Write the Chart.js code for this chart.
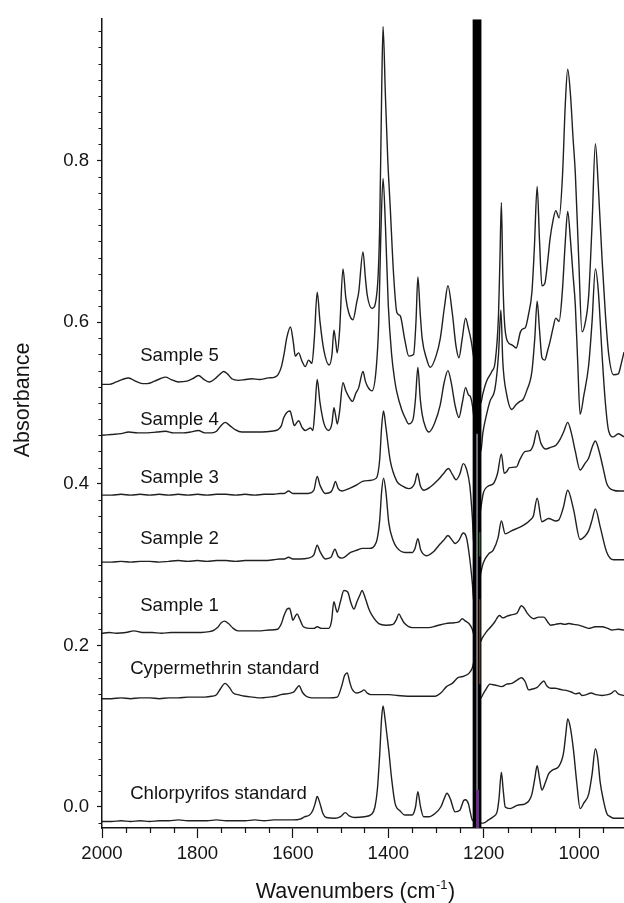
<!DOCTYPE html>
<html>
<head>
<meta charset="utf-8">
<title>FTIR spectra</title>
<script src="https://cdn.jsdelivr.net/npm/chart.js@4.4.1/dist/chart.umd.min.js"></script>
<style>
    html, body { margin: 0; padding: 0; background: #ffffff; }
    #wrap { width: 624px; height: 903px; }
</style>
</head>
<body>
<div id="wrap"><canvas id="spectra" width="624" height="903"></canvas></div>
<script>
// Spectra: [wavenumber (cm-1), absorbance]
const sample5 = [
    [2000, 0.523], [1985, 0.523], [1970, 0.526], [1958, 0.529], [1944, 0.531], [1930, 0.527],
    [1915, 0.524], [1905, 0.524], [1890, 0.527], [1878, 0.530], [1867, 0.532], [1855, 0.529],
    [1840, 0.526], [1822, 0.527], [1810, 0.530], [1798, 0.534], [1786, 0.529], [1775, 0.526],
    [1763, 0.530], [1752, 0.536], [1745, 0.539], [1737, 0.536], [1728, 0.530], [1714, 0.528],
    [1700, 0.529], [1686, 0.530], [1670, 0.529], [1651, 0.531], [1638, 0.532], [1631, 0.535],
    [1624, 0.545], [1618, 0.562], [1613, 0.580], [1605, 0.594], [1599, 0.575], [1595, 0.558],
    [1588, 0.562], [1581, 0.552], [1574, 0.545], [1567, 0.553], [1560, 0.549], [1555, 0.580],
    [1549, 0.637], [1543, 0.600], [1535, 0.565], [1524, 0.547], [1518, 0.560], [1514, 0.590],
    [1510, 0.575], [1507, 0.562], [1502, 0.590], [1495, 0.666], [1489, 0.630], [1483, 0.612],
    [1474, 0.603], [1466, 0.625], [1462, 0.637], [1453, 0.687], [1448, 0.655], [1444, 0.633],
    [1434, 0.617], [1423, 0.642], [1418, 0.720], [1414, 0.880], [1411, 0.966], [1406, 0.880],
    [1401, 0.800], [1396, 0.743], [1389, 0.660], [1382, 0.612], [1375, 0.608], [1366, 0.580],
    [1357, 0.558], [1347, 0.560], [1342, 0.600], [1338, 0.656], [1333, 0.610], [1329, 0.580],
    [1320, 0.555], [1312, 0.544], [1300, 0.558], [1291, 0.580], [1282, 0.620], [1275, 0.645],
    [1266, 0.612], [1258, 0.570], [1252, 0.556], [1245, 0.580], [1238, 0.605], [1232, 0.592],
    [1226, 0.576], [1222, 0.560], [1206, 0.500], [1202, 0.511], [1194, 0.527], [1183, 0.539],
    [1176, 0.551], [1169, 0.609], [1166, 0.678], [1163, 0.748], [1160, 0.658], [1157, 0.605],
    [1150, 0.576], [1141, 0.572], [1132, 0.568], [1123, 0.588], [1117, 0.592], [1113, 0.593],
    [1106, 0.610], [1099, 0.637], [1094, 0.690], [1088, 0.768], [1083, 0.700], [1078, 0.645],
    [1072, 0.648], [1066, 0.675], [1061, 0.703], [1055, 0.725], [1049, 0.738], [1042, 0.729],
    [1035, 0.780], [1029, 0.870], [1024, 0.913], [1018, 0.880], [1013, 0.830], [1008, 0.784],
    [1001, 0.680], [994, 0.588], [987, 0.600], [980, 0.633], [973, 0.720], [966, 0.821],
    [960, 0.770], [952, 0.678], [945, 0.610], [938, 0.560], [928, 0.535], [918, 0.536],
    [912, 0.548], [906, 0.563]
];

const sample4 = [
    [2000, 0.460], [1980, 0.461], [1960, 0.462], [1944, 0.464], [1925, 0.463], [1905, 0.463],
    [1885, 0.464], [1867, 0.465], [1850, 0.463], [1830, 0.463], [1815, 0.464], [1798, 0.466],
    [1785, 0.463], [1770, 0.463], [1760, 0.465], [1752, 0.471], [1742, 0.476], [1732, 0.472],
    [1721, 0.467], [1707, 0.464], [1685, 0.464], [1665, 0.464], [1645, 0.465], [1631, 0.467],
    [1624, 0.472], [1619, 0.482], [1613, 0.488], [1606, 0.490], [1601, 0.480], [1597, 0.472],
    [1588, 0.478], [1580, 0.469], [1574, 0.466], [1563, 0.469], [1558, 0.466], [1554, 0.490],
    [1549, 0.529], [1543, 0.500], [1535, 0.475], [1525, 0.466], [1518, 0.475], [1514, 0.494],
    [1510, 0.483], [1507, 0.474], [1502, 0.490], [1495, 0.525], [1489, 0.515], [1483, 0.508],
    [1475, 0.502], [1468, 0.512], [1462, 0.519], [1453, 0.539], [1448, 0.527], [1443, 0.520],
    [1434, 0.515], [1425, 0.545], [1420, 0.600], [1416, 0.700], [1411, 0.778], [1406, 0.720],
    [1400, 0.621], [1393, 0.560], [1387, 0.530], [1382, 0.513], [1372, 0.492], [1365, 0.482],
    [1357, 0.474], [1348, 0.480], [1343, 0.505], [1338, 0.544], [1333, 0.505], [1329, 0.486],
    [1322, 0.470], [1315, 0.464], [1303, 0.475], [1291, 0.498], [1283, 0.525], [1275, 0.540],
    [1268, 0.525], [1260, 0.497], [1252, 0.482], [1245, 0.500], [1238, 0.519], [1232, 0.510],
    [1228, 0.508], [1224, 0.498], [1220, 0.480], [1206, 0.440], [1202, 0.462], [1194, 0.486],
    [1187, 0.502], [1176, 0.519], [1169, 0.560], [1164, 0.615], [1160, 0.551], [1152, 0.511],
    [1141, 0.492], [1132, 0.498], [1124, 0.502], [1118, 0.504], [1110, 0.515], [1099, 0.539],
    [1093, 0.580], [1088, 0.626], [1083, 0.590], [1078, 0.556], [1072, 0.553], [1066, 0.565],
    [1061, 0.576], [1055, 0.592], [1049, 0.605], [1042, 0.601], [1035, 0.640], [1029, 0.700],
    [1024, 0.737], [1018, 0.700], [1013, 0.660], [1008, 0.621], [1003, 0.550], [998, 0.486],
    [990, 0.510], [980, 0.547], [973, 0.600], [966, 0.666], [960, 0.640], [952, 0.560],
    [945, 0.500], [938, 0.465], [928, 0.458], [918, 0.462], [906, 0.458]
];

const sample3 = [
    [2000, 0.386], [1980, 0.386], [1960, 0.387], [1940, 0.386], [1920, 0.387], [1900, 0.386],
    [1880, 0.387], [1860, 0.386], [1840, 0.387], [1820, 0.386], [1800, 0.387], [1780, 0.386],
    [1760, 0.387], [1740, 0.387], [1720, 0.386], [1700, 0.387], [1680, 0.386], [1660, 0.387],
    [1640, 0.387], [1627, 0.388], [1618, 0.388], [1609, 0.391], [1600, 0.388], [1585, 0.388],
    [1568, 0.388], [1556, 0.392], [1549, 0.409], [1543, 0.398], [1532, 0.388], [1520, 0.390],
    [1515, 0.396], [1511, 0.403], [1505, 0.394], [1497, 0.391], [1479, 0.395], [1465, 0.399],
    [1454, 0.403], [1440, 0.404], [1425, 0.407], [1418, 0.430], [1414, 0.470], [1410, 0.490],
    [1405, 0.470], [1396, 0.429], [1382, 0.403], [1370, 0.397], [1357, 0.394], [1345, 0.400],
    [1339, 0.413], [1333, 0.398], [1325, 0.392], [1312, 0.396], [1297, 0.404], [1285, 0.412],
    [1274, 0.419], [1266, 0.412], [1258, 0.405], [1250, 0.412], [1243, 0.425], [1236, 0.418],
    [1229, 0.397], [1224, 0.360], [1220, 0.320], [1206, 0.370], [1201, 0.388], [1191, 0.397],
    [1180, 0.400], [1171, 0.413], [1163, 0.437], [1157, 0.413], [1152, 0.415], [1146, 0.420],
    [1131, 0.421], [1125, 0.429], [1113, 0.440], [1103, 0.441], [1096, 0.448], [1088, 0.466],
    [1080, 0.450], [1070, 0.443], [1060, 0.445], [1048, 0.448], [1040, 0.455], [1032, 0.465],
    [1024, 0.476], [1016, 0.462], [1008, 0.440], [998, 0.417], [988, 0.425], [980, 0.432],
    [973, 0.445], [966, 0.453], [958, 0.440], [950, 0.420], [942, 0.400], [928, 0.392],
    [915, 0.391], [906, 0.391]
];

const sample2 = [
    [2000, 0.303], [1980, 0.303], [1960, 0.304], [1940, 0.303], [1920, 0.304], [1900, 0.304],
    [1880, 0.303], [1860, 0.304], [1840, 0.305], [1820, 0.304], [1800, 0.305], [1780, 0.304],
    [1760, 0.305], [1740, 0.305], [1720, 0.304], [1700, 0.305], [1680, 0.305], [1660, 0.305],
    [1640, 0.306], [1627, 0.307], [1618, 0.307], [1609, 0.309], [1600, 0.307], [1585, 0.307],
    [1568, 0.308], [1556, 0.312], [1549, 0.324], [1543, 0.316], [1532, 0.307], [1520, 0.309],
    [1512, 0.319], [1505, 0.310], [1497, 0.308], [1479, 0.315], [1465, 0.318], [1454, 0.320],
    [1440, 0.320], [1425, 0.328], [1418, 0.355], [1414, 0.390], [1410, 0.407], [1405, 0.390],
    [1399, 0.352], [1390, 0.330], [1382, 0.321], [1365, 0.315], [1350, 0.315], [1344, 0.320],
    [1338, 0.332], [1332, 0.318], [1319, 0.311], [1305, 0.316], [1295, 0.323], [1284, 0.330],
    [1275, 0.336], [1266, 0.330], [1260, 0.326], [1252, 0.330], [1243, 0.339], [1236, 0.333],
    [1229, 0.306], [1224, 0.278], [1220, 0.250], [1206, 0.290], [1201, 0.302], [1190, 0.313],
    [1180, 0.318], [1170, 0.333], [1163, 0.354], [1155, 0.338], [1141, 0.342], [1125, 0.346],
    [1113, 0.350], [1103, 0.355], [1096, 0.360], [1088, 0.382], [1078, 0.353], [1064, 0.357],
    [1050, 0.354], [1043, 0.355], [1033, 0.371], [1024, 0.392], [1012, 0.369], [998, 0.331],
    [988, 0.335], [980, 0.342], [973, 0.355], [966, 0.369], [956, 0.347], [942, 0.315],
    [928, 0.306], [915, 0.306], [906, 0.306]
];

const sample1 = [
    [2000, 0.215], [1985, 0.216], [1970, 0.215], [1950, 0.216], [1933, 0.218], [1915, 0.216],
    [1895, 0.216], [1875, 0.215], [1855, 0.216], [1835, 0.216], [1812, 0.216], [1792, 0.216],
    [1775, 0.217], [1765, 0.219], [1758, 0.222], [1750, 0.228], [1743, 0.230], [1735, 0.227],
    [1725, 0.221], [1715, 0.218], [1700, 0.218], [1685, 0.218], [1667, 0.218], [1650, 0.219],
    [1632, 0.220], [1624, 0.227], [1619, 0.236], [1612, 0.245], [1607, 0.246], [1603, 0.238],
    [1600, 0.231], [1595, 0.236], [1591, 0.239], [1586, 0.233], [1578, 0.223], [1566, 0.221],
    [1556, 0.221], [1549, 0.223], [1540, 0.221], [1525, 0.221], [1519, 0.230], [1514, 0.254],
    [1510, 0.246], [1507, 0.241], [1500, 0.255], [1493, 0.268], [1485, 0.266], [1478, 0.252],
    [1472, 0.245], [1465, 0.255], [1459, 0.263], [1455, 0.268], [1448, 0.258], [1440, 0.244],
    [1434, 0.237], [1420, 0.227], [1405, 0.225], [1390, 0.226], [1383, 0.232], [1378, 0.239],
    [1372, 0.233], [1367, 0.228], [1350, 0.222], [1335, 0.222], [1315, 0.222], [1300, 0.224],
    [1280, 0.227], [1262, 0.228], [1252, 0.229], [1245, 0.233], [1238, 0.230], [1231, 0.227],
    [1224, 0.220], [1220, 0.212], [1206, 0.205], [1204, 0.208], [1194, 0.217], [1185, 0.223],
    [1177, 0.229], [1167, 0.237], [1160, 0.234], [1152, 0.236], [1140, 0.238], [1130, 0.240],
    [1121, 0.249], [1115, 0.246], [1109, 0.240], [1095, 0.233], [1085, 0.235], [1074, 0.235],
    [1066, 0.229], [1060, 0.225], [1050, 0.226], [1039, 0.227], [1030, 0.226], [1022, 0.227],
    [1012, 0.226], [1001, 0.225], [990, 0.223], [980, 0.221], [966, 0.223], [952, 0.223],
    [940, 0.221], [931, 0.219], [918, 0.220], [906, 0.219]
];

const cypermethrin = [
    [2000, 0.134], [1980, 0.134], [1960, 0.135], [1940, 0.134], [1920, 0.135], [1900, 0.135],
    [1880, 0.134], [1860, 0.135], [1840, 0.135], [1820, 0.136], [1800, 0.136], [1785, 0.136],
    [1770, 0.137], [1760, 0.139], [1752, 0.146], [1742, 0.153], [1733, 0.148], [1725, 0.141],
    [1715, 0.139], [1700, 0.137], [1685, 0.136], [1667, 0.135], [1650, 0.136], [1635, 0.137],
    [1625, 0.139], [1605, 0.141], [1597, 0.143], [1592, 0.147], [1587, 0.150], [1580, 0.142],
    [1572, 0.137], [1560, 0.135], [1540, 0.135], [1525, 0.135], [1507, 0.136], [1497, 0.151],
    [1492, 0.162], [1486, 0.166], [1481, 0.155], [1476, 0.146], [1465, 0.141], [1456, 0.143],
    [1451, 0.145], [1444, 0.141], [1437, 0.139], [1420, 0.139], [1399, 0.139], [1380, 0.138],
    [1350, 0.137], [1325, 0.137], [1302, 0.137], [1290, 0.141], [1278, 0.149], [1266, 0.153],
    [1254, 0.160], [1241, 0.162], [1230, 0.166], [1224, 0.172], [1220, 0.180], [1206, 0.135],
    [1201, 0.140], [1195, 0.146], [1187, 0.152], [1177, 0.151], [1162, 0.149], [1152, 0.152],
    [1141, 0.153], [1130, 0.157], [1121, 0.160], [1113, 0.155], [1106, 0.145], [1098, 0.146],
    [1088, 0.148], [1080, 0.153], [1074, 0.156], [1068, 0.150], [1060, 0.147], [1050, 0.147],
    [1043, 0.146], [1035, 0.145], [1025, 0.144], [1015, 0.142], [1008, 0.140], [1000, 0.141],
    [994, 0.138], [985, 0.139], [975, 0.141], [965, 0.139], [952, 0.138], [940, 0.139],
    [932, 0.141], [925, 0.144], [918, 0.140], [906, 0.138]
];

const chlorpyrifos = [
    [2000, -0.018], [1980, -0.018], [1960, -0.017], [1940, -0.018], [1920, -0.017], [1900, -0.018],
    [1880, -0.017], [1860, -0.017], [1840, -0.016], [1820, -0.017], [1800, -0.017], [1780, -0.017],
    [1760, -0.016], [1740, -0.017], [1720, -0.017], [1700, -0.017], [1680, -0.016], [1660, -0.017],
    [1640, -0.016], [1620, -0.016], [1600, -0.016], [1585, -0.015], [1575, -0.012], [1565, -0.010],
    [1558, -0.004], [1553, 0.005], [1549, 0.013], [1544, 0.006], [1537, -0.008], [1530, -0.013],
    [1512, -0.014], [1500, -0.012], [1490, -0.007], [1482, -0.011], [1470, -0.013], [1450, -0.012],
    [1435, -0.009], [1428, 0.000], [1423, 0.021], [1418, 0.065], [1414, 0.110], [1411, 0.125],
    [1407, 0.110], [1403, 0.090], [1399, 0.070], [1393, 0.035], [1386, 0.005], [1375, -0.005],
    [1365, -0.010], [1350, -0.010], [1343, 0.000], [1338, 0.019], [1333, 0.002], [1326, -0.012],
    [1315, -0.012], [1302, -0.008], [1290, 0.000], [1283, 0.010], [1277, 0.017], [1270, 0.010],
    [1260, -0.006], [1250, -0.004], [1242, 0.008], [1238, 0.009], [1232, 0.004], [1229, -0.004],
    [1224, -0.016], [1206, -0.020], [1201, -0.020], [1190, -0.016], [1180, -0.012], [1172, -0.006],
    [1168, 0.010], [1163, 0.043], [1159, 0.020], [1155, 0.000], [1145, -0.002], [1130, 0.002],
    [1113, 0.004], [1105, 0.008], [1099, 0.016], [1093, 0.035], [1088, 0.051], [1083, 0.035],
    [1078, 0.021], [1071, 0.030], [1064, 0.041], [1055, 0.046], [1043, 0.050], [1033, 0.066],
    [1028, 0.090], [1024, 0.109], [1019, 0.100], [1012, 0.071], [1005, 0.030], [998, -0.002],
    [990, 0.005], [980, 0.016], [973, 0.040], [966, 0.072], [961, 0.060], [956, 0.031],
    [949, 0.008], [942, -0.008], [935, -0.012], [928, -0.014], [918, -0.014], [906, -0.014]
];

// Saturated region around 1214 cm-1: black band plus the thin strokes inside it
const bandBlack = [[1214, -0.026], [1214, 0.975]];
const bandWhite = [[1214, -0.026], [1214, 0.462]];
const bandGreen = [[1208.5, 0.310], [1208.5, 0.340]];
const bandBrown = [[1208.5, 0.152], [1208.5, 0.257]];
const bandPurple = [[1213, -0.026], [1213, 0.021]];

// Trace labels, anchored at the left end of each text baseline
const traceNames = ['Sample 5', 'Sample 4', 'Sample 3', 'Sample 2', 'Sample 1',
    'Cypermethrin standard', 'Chlorpyrifos standard'];
const labelWn = [1920, 1920, 1920, 1920, 1920, 1941, 1941];
const labelAbs = [0.552, 0.473, 0.4015, 0.326, 0.243, 0.1645, 0.0093];

// Axes
const xMajorTicks = [2000, 1800, 1600, 1400, 1200, 1000];
const yMajorTicks = [0.0, 0.2, 0.4, 0.6, 0.8];
const xRange = [906, 2000];
const yRange = [-0.026, 0.975];

const FONT = "'Liberation Sans', Arial, Helvetica, sans-serif";
const INK = '#141414';

const toPoints = pairs => pairs.map(([x, y]) => ({ x, y }));
const isXMajor = v => xMajorTicks.includes(Math.round(v));
const isYMajor = v => yMajorTicks.some(t => Math.abs(t - v) < 1e-6);

function trace(pairs) {
    return {
        data: toPoints(pairs),
        borderColor: '#202020',
        borderWidth: 1.4,
        pointRadius: 0,
        cubicInterpolationMode: 'monotone',
        order: 5
    };
}

function bandStroke(pairs, color, width, order) {
    return {
        data: toPoints(pairs),
        borderColor: color,
        borderWidth: width,
        borderCapStyle: 'butt',
        pointRadius: 0,
        order: order
    };
}

// Minor ticks, trace labels and axis titles
const decorations = {
    id: 'decorations',
    afterDraw(chart) {
        const { ctx, chartArea } = chart;
        const x = chart.scales.x;
        const y = chart.scales.y;

        ctx.save();
        ctx.strokeStyle = INK;
        ctx.lineWidth = 1.2;
        ctx.beginPath();
        x.ticks.forEach(t => {
            if (isXMajor(t.value)) return;
            const px = Math.round(x.getPixelForValue(t.value)) + 0.5;
            ctx.moveTo(px, chartArea.bottom);
            ctx.lineTo(px, chartArea.bottom + 5);
        });
        y.ticks.forEach(t => {
            if (isYMajor(t.value)) return;
            const py = Math.round(y.getPixelForValue(t.value)) + 0.5;
            ctx.moveTo(chartArea.left, py);
            ctx.lineTo(chartArea.left - 3.5, py);
        });
        ctx.stroke();

        ctx.fillStyle = INK;
        ctx.font = '18.6px ' + FONT;
        ctx.textAlign = 'left';
        ctx.textBaseline = 'alphabetic';
        traceNames.forEach((name, i) => {
            ctx.fillText(name, x.getPixelForValue(labelWn[i]), y.getPixelForValue(labelAbs[i]));
        });

        // x title with superscript -1
        const big = '21.5px ' + FONT;
        const small = '13px ' + FONT;
        const head = 'Wavenumbers (cm';
        const sup = '-1';
        const tail = ')';
        ctx.font = big;
        const wHead = ctx.measureText(head).width;
        const wTail = ctx.measureText(tail).width;
        ctx.font = small;
        const wSup = ctx.measureText(sup).width;
        let tx = 355 - (wHead + wSup + wTail) / 2;
        const base = 898;
        ctx.font = big;
        ctx.fillText(head, tx, base);
        tx += wHead;
        ctx.font = small;
        ctx.fillText(sup, tx + 0.5, base - 9);
        tx += wSup + 1;
        ctx.font = big;
        ctx.fillText(tail, tx, base);

        // y title
        ctx.translate(23, 400);
        ctx.rotate(-Math.PI / 2);
        ctx.textAlign = 'center';
        ctx.textBaseline = 'middle';
        ctx.fillText('Absorbance', 0, 0);
        ctx.restore();
    }
};

const ctx = document.getElementById('spectra');

new Chart(ctx, {
    type: 'line',
    data: {
        datasets: [
            bandStroke(bandPurple, '#6a2c8c', 3, -2),
            bandStroke(bandGreen, '#2e5a2e', 1.5, -2),
            bandStroke(bandBrown, '#5a3a22', 1.5, -2),
            bandStroke(bandWhite, '#b9b4c8', 1.2, -1),
            bandStroke(bandBlack, '#000000', 8.8, 0),
            trace(sample5),
            trace(sample4),
            trace(sample3),
            trace(sample2),
            trace(sample1),
            trace(cypermethrin),
            trace(chlorpyrifos)
        ]
    },
    options: {
        responsive: false,
        animation: false,
        devicePixelRatio: 1,
        events: [],
        layout: { padding: { top: 12, left: 0, right: 0, bottom: 0 } },
        plugins: {
            legend: { display: false },
            tooltip: { enabled: false }
        },
        scales: {
            x: {
                type: 'linear',
                reverse: true,
                min: xRange[0],
                max: xRange[1],
                afterFit: scale => { scale.height = 75; },
                border: { display: true, color: INK, width: 1.5 },
                grid: {
                    drawOnChartArea: false,
                    tickLength: 10,
                    tickWidth: 1.2,
                    tickColor: c => isXMajor(c.tick.value) ? INK : 'rgba(0,0,0,0)'
                },
                ticks: {
                    stepSize: 50,
                    autoSkip: false,
                    maxRotation: 0,
                    includeBounds: false,
                    padding: 5,
                    color: INK,
                    font: { family: FONT, size: 18.6 },
                    callback: v => isXMajor(v) ? String(Math.round(v)) : ''
                }
            },
            y: {
                type: 'linear',
                min: yRange[0],
                max: yRange[1],
                afterFit: scale => { scale.width = 102; },
                border: { display: true, color: INK, width: 1.5 },
                grid: {
                    drawOnChartArea: false,
                    tickLength: 5,
                    tickWidth: 1.2,
                    tickColor: c => isYMajor(c.tick.value) ? INK : 'rgba(0,0,0,0)'
                },
                ticks: {
                    stepSize: 0.02,
                    autoSkip: false,
                    includeBounds: false,
                    padding: 8,
                    color: INK,
                    font: { family: FONT, size: 18.6 },
                    callback: v => isYMajor(v) ? v.toFixed(1) : ''
                }
            }
        }
    },
    plugins: [decorations]
});
</script>
</body>
</html>
